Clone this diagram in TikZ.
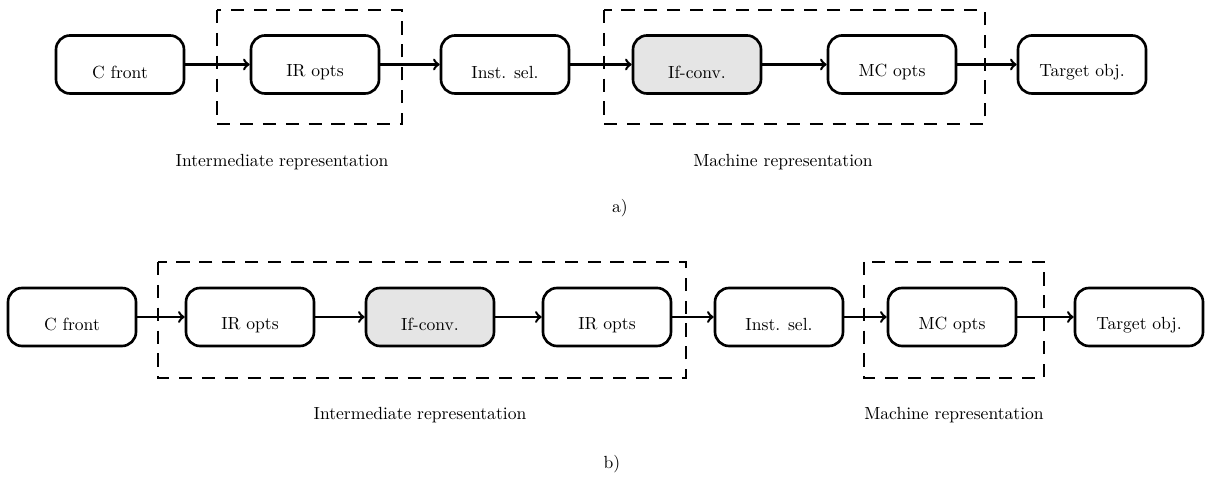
\documentclass[tikz,border=0pt]{standalone}
\begin{document}
\begin{tikzpicture}[stage/.style={draw,line width=1.5pt,rounded corners=8pt,minimum width=2.56cm,minimum height=1.16cm,fill=white,text height=16pt},
    conv/.style={stage,fill=black!10},
    group/.style={line width=1.5pt,dash pattern=on 7.5pt off 5.5pt},
    flow/.style={->,line width=1.4pt}]
        \useasboundingbox (0,0) rectangle (24.44,-9.54);
        \draw[group] (4.34,-0.20) rectangle (8.04,-2.48);
        \draw[group] (12.08,-0.20) rectangle (19.70,-2.48);
        \node[stage] (acf) at (2.40,-1.29) {C front};
        \node[stage] (air) at (6.30,-1.29) {IR opts};
        \node[stage] (ais) at (10.10,-1.29) {Inst. sel.};
        \node[conv] (aif) at (13.94,-1.29) {If-conv.};
        \node[stage] (amc) at (17.84,-1.29) {MC opts};
        \node[stage] (ato) at (21.64,-1.29) {Target obj.};
        \draw[flow] (acf)--(air);
        \draw[flow] (air)--(ais);
        \draw[flow] (ais)--(aif);
        \draw[flow] (aif)--(amc);
        \draw[flow] (amc)--(ato);
        \node (air-label) at (5.64,-3.24) {Intermediate representation};
        \node (amc-label) at (15.66,-3.24) {Machine representation};
        \node (a-label) at (12.40,-4.16) {a)};
        \draw[group] (3.16,-5.24) rectangle (13.72,-7.56);
        \draw[group] (17.28,-5.24) rectangle (20.88,-7.56);
        \node[stage] (bcf) at (1.44,-6.34) {C front};
        \node[stage] (bir) at (5.00,-6.34) {IR opts};
        \node[conv] (bif) at (8.60,-6.34) {If-conv.};
        \node[stage] (bip) at (12.14,-6.34) {IR opts};
        \node[stage] (bis) at (15.58,-6.34) {Inst. sel.};
        \node[stage] (bmc) at (19.04,-6.34) {MC opts};
        \node[stage] (bto) at (22.78,-6.34) {Target obj.};
        \draw[flow] (bcf)--(bir);
        \draw[flow] (bir)--(bif);
        \draw[flow] (bif)--(bip);
        \draw[flow] (bip)--(bis);
        \draw[flow] (bis)--(bmc);
        \draw[flow] (bmc)--(bto);
        \node (bir-label) at (8.40,-8.30) {Intermediate representation};
        \node (bmc-label) at (19.08,-8.30) {Machine representation};
        \node (b-label) at (12.24,-9.28) {b)};
    \end{tikzpicture}
\end{document}
